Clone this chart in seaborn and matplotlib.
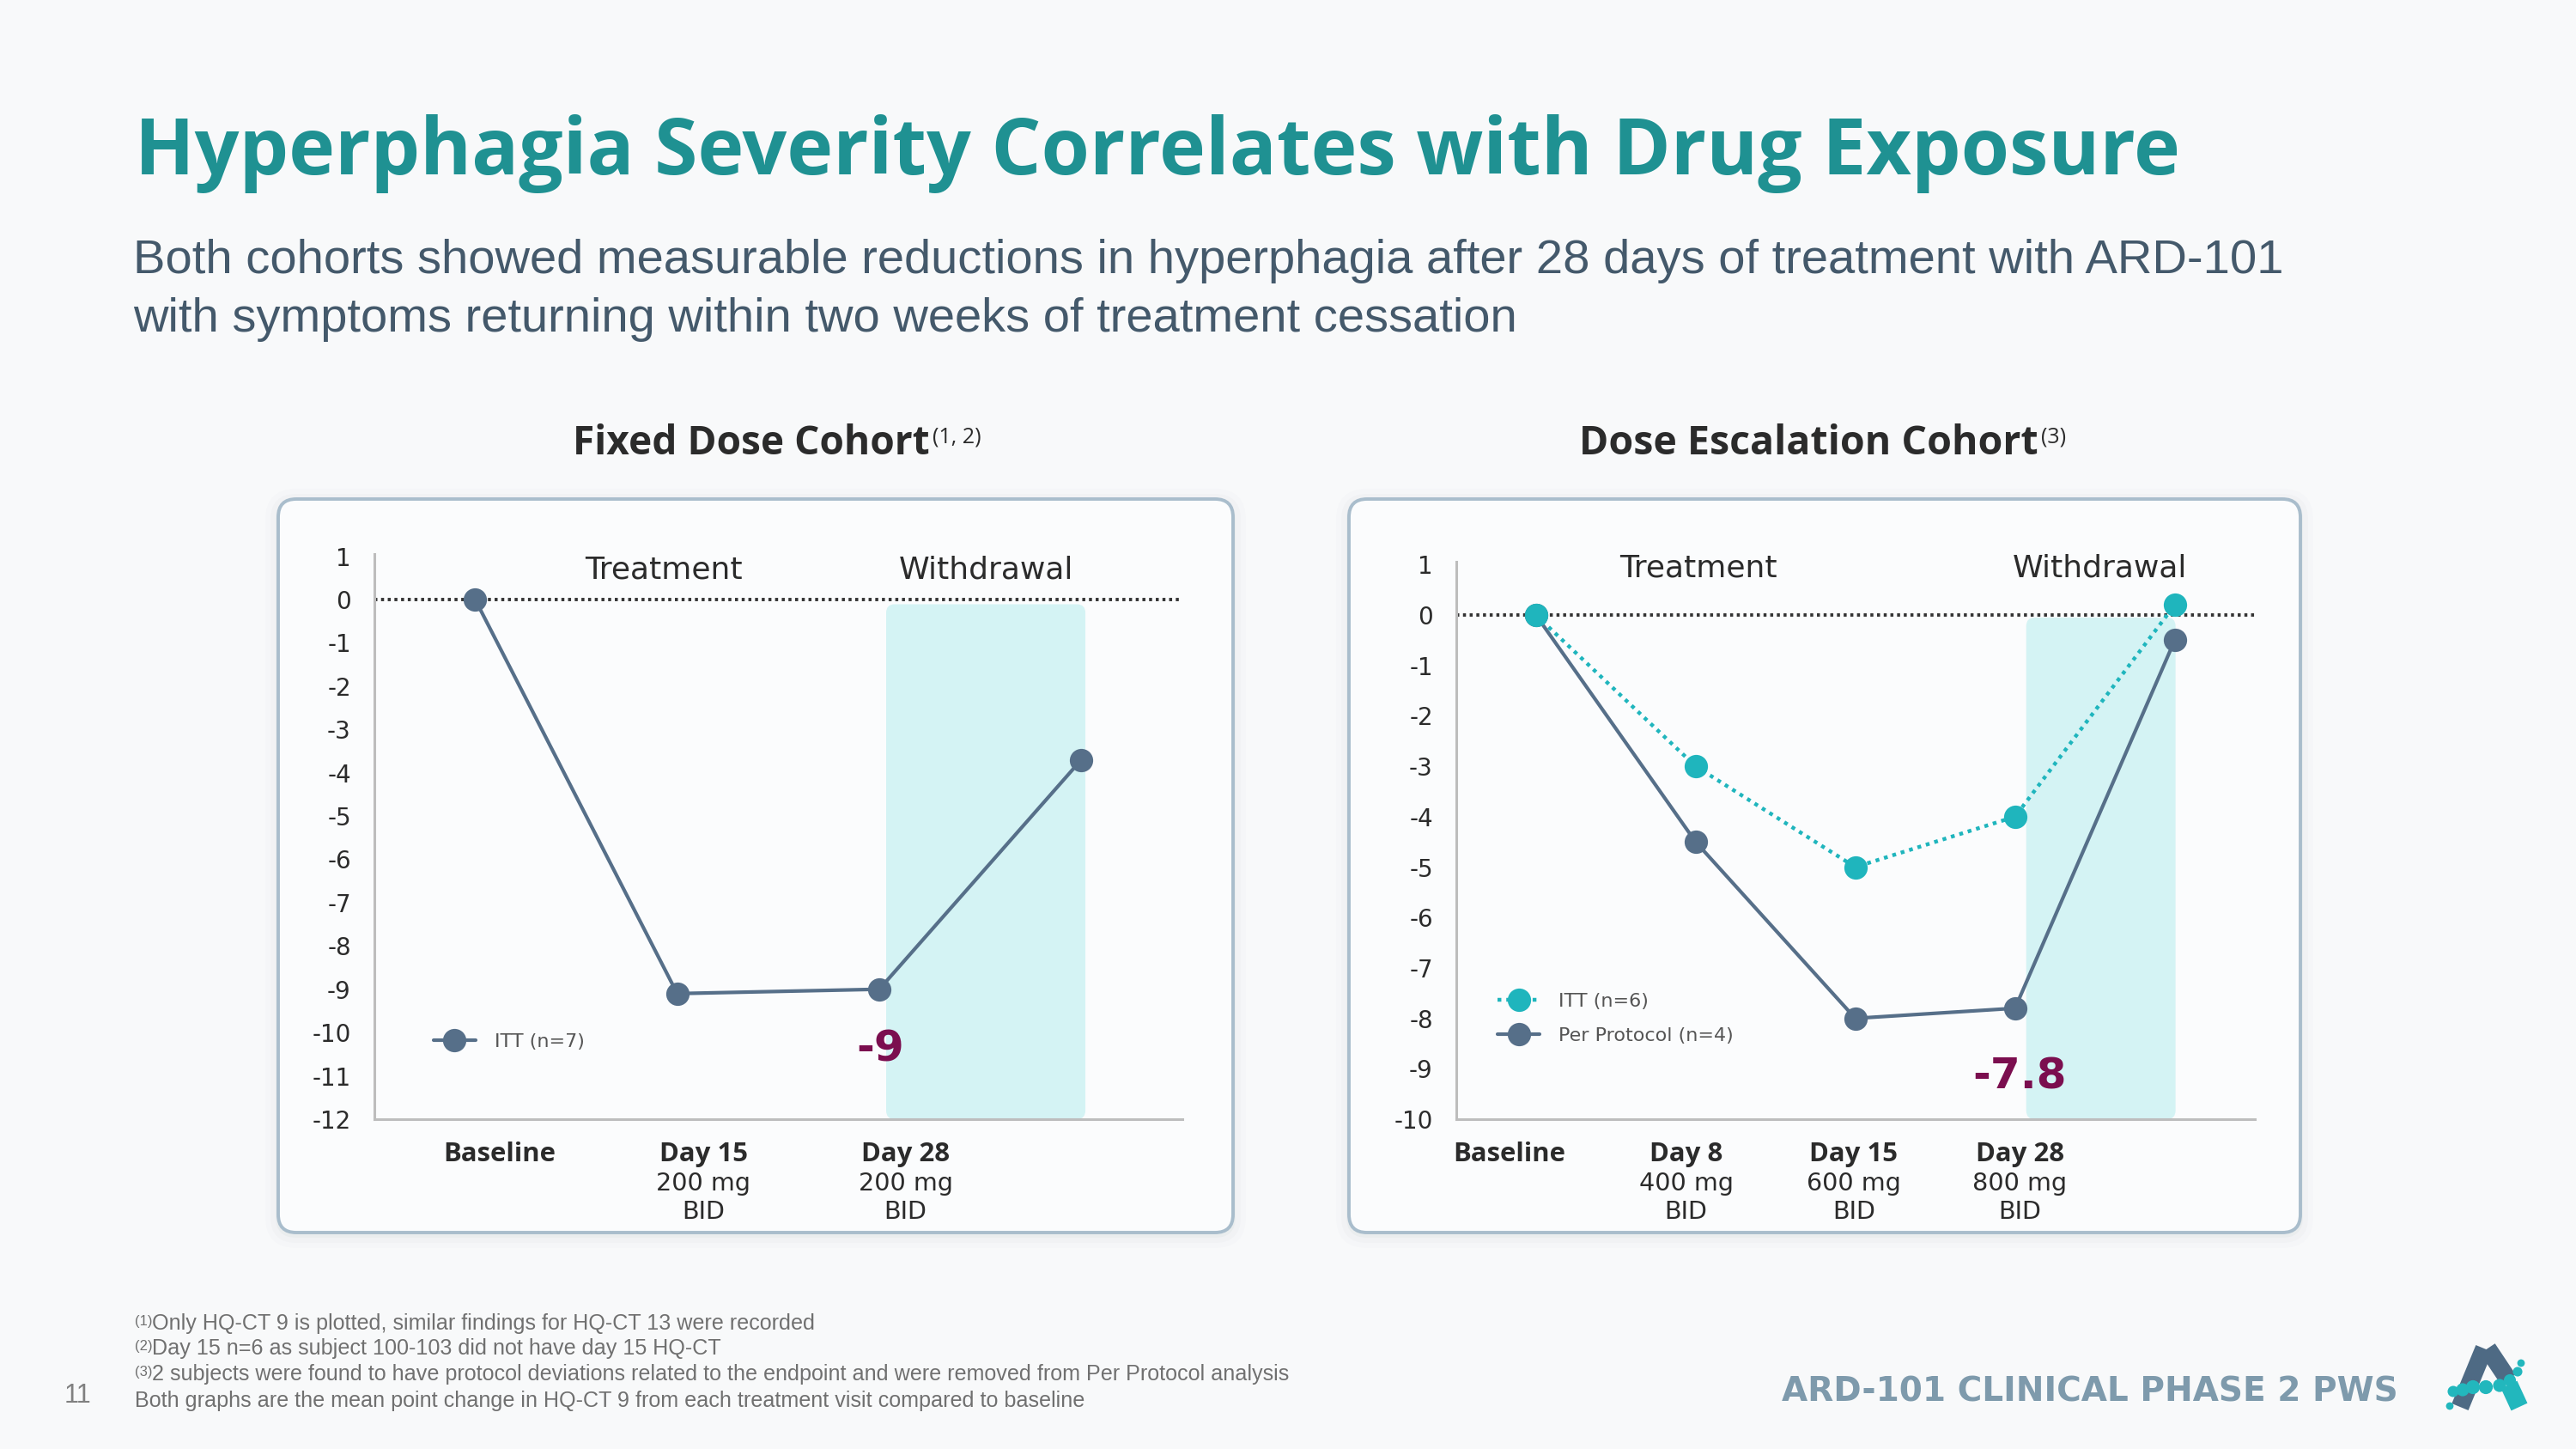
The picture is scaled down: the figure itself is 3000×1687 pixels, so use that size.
import numpy as np
import pandas as pd
import matplotlib
matplotlib.use("Agg")
import matplotlib.pyplot as plt
import matplotlib.transforms as mtransforms
from matplotlib.patches import FancyBboxPatch
import seaborn as sns

# ---------------- data ----------------
fixed_visits = ["Baseline", "Day 15", "Day 28", "Withdrawal"]
fixed_itt = [0.0, -9.1, -9.0, -3.7]
fixed_day_labels = ["Baseline", "Day 15", "Day 28"]
fixed_dose_labels = ["", "200 mg\nBID", "200 mg\nBID"]
fixed_yticks = [1, 0, -1, -2, -3, -4, -5, -6, -7, -8, -9, -10, -11, -12]
fixed_callout = "-9"
fixed_legend = "ITT (n=7)"

esc_visits = ["Baseline", "Day 8", "Day 15", "Day 28", "Withdrawal"]
esc_itt = [0.0, -3.0, -5.0, -4.0, 0.2]
esc_pp = [0.0, -4.5, -8.0, -7.8, -0.5]
esc_day_labels = ["Baseline", "Day 8", "Day 15", "Day 28"]
esc_dose_labels = ["", "400 mg\nBID", "600 mg\nBID", "800 mg\nBID"]
esc_yticks = [1, 0, -1, -2, -3, -4, -5, -6, -7, -8, -9, -10]
esc_callout = "-7.8"
esc_legend = ["ITT (n=6)", "Per Protocol (n=4)"]

phase_labels = ["Treatment", "Withdrawal"]
title = "Hyperphagia Severity Correlates with Drug Exposure"
subtitle = ["Both cohorts showed measurable reductions in hyperphagia after 28 days of treatment with ARD-101",
            "with symptoms returning within two weeks of treatment cessation"]
cohort_titles = ["Fixed Dose Cohort", "Dose Escalation Cohort"]
cohort_refs = ["(1, 2)", "(3)"]
footnote_refs = ["(1)", "(2)", "(3)", ""]
footnotes = ["Only HQ-CT 9 is plotted, similar findings for HQ-CT 13 were recorded",
             "Day 15 n=6 as subject 100-103 did not have day 15 HQ-CT",
             "2 subjects were found to have protocol deviations related to the endpoint and were removed from Per Protocol analysis",
             "Both graphs are the mean point change in HQ-CT 9 from each treatment visit compared to baseline"]
footer = "ARD-101 CLINICAL PHASE 2 PWS"
page_no = "11"

# ---------------- style ----------------
BG = "#f8f9fa"
PANEL = "#fbfcfd"
PANEL_EDGE = "#a9bdcc"
SLATE = "#566f89"
TEAL = "#1fb5bd"
SHADE = "#d4f3f4"
MAGENTA = "#7b0e4f"
TITLE_C = "#1f9192"
SUB_C = "#44596b"
FOOT_C = "#7e9aac"
NOTE_C = "#707070"
TXT = "#2b2b2b"

sns.set_theme(style="white")
plt.rcParams["font.family"] = ["DejaVu Sans"]
plt.rcParams["axes.unicode_minus"] = False

W, H, DPI = 3000, 1687, 200
fig = plt.figure(figsize=(W / DPI, H / DPI), dpi=DPI, facecolor=BG)
R = fig.canvas.get_renderer()
ID = mtransforms.IdentityTransform()


def fit(t, target_w):
    w = t.get_window_extent(R).width
    t.set_fontsize(t.get_fontsize() * target_w / w)
    return t


def ftext(x, y, s, target_w=None, **kw):
    t = fig.text(x / W, 1 - y / H, s, **kw)
    if target_w:
        fit(t, target_w)
    return t


def panel(x0, y0, x1, y1):
    for i, a in enumerate([0.030, 0.020, 0.012]):
        pad = 3 + 6 * i
        sh = FancyBboxPatch((x0 - pad, H - y1 - pad - 3), x1 - x0 + 2 * pad, y1 - y0 + 2 * pad,
                            boxstyle=f"round,pad=0,rounding_size={21 + pad}", transform=ID,
                            fc="#30465a", ec="none", alpha=a, zorder=-3)
        fig.add_artist(sh)
    box = FancyBboxPatch((x0, H - y1), x1 - x0, y1 - y0, boxstyle="round,pad=0,rounding_size=21",
                         transform=ID, fc=PANEL, ec=PANEL_EDGE, lw=1.4, zorder=-2)
    fig.add_artist(box)


# ---------------- header ----------------
ftext(157, 203, title, target_w=2382, fontsize=30, fontweight="bold", color=TITLE_C,
      family=["Open Sans", "DejaVu Sans"], va="baseline", ha="left")
s1 = ftext(155, 318, subtitle[0], target_w=2508, fontsize=18, color=SUB_C,
           family=["Liberation Sans", "DejaVu Sans"], va="baseline", ha="left")
ftext(155, 386, subtitle[1], fontsize=s1.get_fontsize(), color=SUB_C,
      family=["Liberation Sans", "DejaVu Sans"], va="baseline", ha="left")

# cohort titles
ct_x = [667, 1839]
ct_w = [415, 533]
for i in range(2):
    t = ftext(ct_x[i], 529, cohort_titles[i], target_w=ct_w[i], fontsize=14, fontweight="bold",
              color=TXT, family=["Open Sans", "DejaVu Sans"], va="baseline", ha="left")
    x_end = t.get_window_extent(R).x1
    ftext(x_end + 3, 515, cohort_refs[i], fontsize=9, color=TXT,
          family=["Open Sans", "DejaVu Sans"], va="baseline", ha="left")

# ---------------- panels ----------------
panel(324, 581, 1436, 1435)
panel(1571, 581, 2679, 1435)


def setup_axes(rect_px, nx, yticks, ytop):
    x0, y_top, x1, y_bot = rect_px
    ax = fig.add_axes([x0 / W, 1 - y_bot / H, (x1 - x0) / W, (y_bot - y_top) / H])
    ax.set_facecolor("none")
    ax.set_xlim(-0.5, nx - 0.5)
    ax.set_ylim(min(yticks), ytop)
    ax.set_yticks(yticks)
    ax.set_yticklabels([str(v) for v in yticks])
    ax.set_xticks([])
    ax.set_xlabel("")
    ax.set_ylabel("")
    ax.tick_params(axis="y", length=0, pad=9.7, labelsize=10, labelcolor=TXT)
    for sp in ["top", "right"]:
        ax.spines[sp].set_visible(False)
    for sp in ["left", "bottom"]:
        ax.spines[sp].set_color("#bdbdbd")
        ax.spines[sp].set_linewidth(1.1)
    ax.axhline(0, color="#333333", lw=1.4, ls=(0, (0.9, 1.1)), zorder=2)
    return ax


def shade(ax, xa, xb, ytop, px_per_x, px_per_y):
    r = 10 / px_per_x
    aspect = px_per_x / px_per_y
    ymin = ax.get_ylim()[0]
    p = FancyBboxPatch((xa, ymin), xb - xa, ytop - ymin, boxstyle=f"round,pad=0,rounding_size={r}",
                       mutation_aspect=aspect, transform=ax.transData, fc=SHADE, ec="none", zorder=1)
    ax.add_patch(p)


def xlabels(ax, xpos, days, doses):
    tr = mtransforms.blended_transform_factory(ax.transData, fig.transFigure)
    for x, d, dose in zip(xpos, days, doses):
        ax.text(x, 1 - 1352 / H, d, transform=tr, ha="center", va="baseline", fontweight="bold",
                family=["Open Sans", "DejaVu Sans"], fontsize=11.2, color=TXT, clip_on=False)
        if dose:
            for k, line in enumerate(dose.split("\n")):
                ax.text(x, 1 - [1386, 1419][k] / H, line, transform=tr, ha="center", va="baseline",
                        fontsize=10.3, color=TXT, clip_on=False)


# ----- left chart: fixed dose -----
axL = setup_axes((435.7, 645, 1377, 1303), len(fixed_visits), fixed_yticks, 1.05)
shade(axL, 2.034, 3.02, -0.11, 235.7, 50.4)
dfL = pd.DataFrame({"pos": np.arange(len(fixed_visits)), "change": fixed_itt})
sns.lineplot(data=dfL, x="pos", y="change", ax=axL, color=SLATE, lw=1.5, marker="o",
             markersize=9.8, markeredgewidth=0, label=fixed_legend, zorder=4)
axL.set_xlabel(""); axL.set_ylabel(""); axL.set_xticks([])
axL.text(0.935, 0.476, phase_labels[0], ha="center", va="baseline", fontsize=13, color=TXT)
axL.text(2.53, 0.476, phase_labels[1], ha="center", va="baseline", fontsize=13, color=TXT)
axL.text(2.005, -10.67, fixed_callout, ha="center", va="baseline", fontsize=18,
         fontweight="bold", color=MAGENTA, zorder=5)
xlabels(axL, [0.12, 1.13, 2.13], fixed_day_labels, fixed_dose_labels)
legL = axL.legend(loc="center left", bbox_to_anchor=(-0.206, -10.22), bbox_transform=axL.transData,
                  frameon=False, fontsize=8, handlelength=2.2, handletextpad=1.0, borderpad=0,
                  borderaxespad=0)
for t in legL.get_texts():
    t.set_color("#555555")

# ----- right chart: dose escalation -----
axR = setup_axes((1695.7, 653.8, 2625.7, 1303), len(esc_visits), esc_yticks, 1.06)
shade(axR, 3.07, 4.005, -0.05, 186.1, 58.7)
dfR = pd.DataFrame({"pos": np.arange(len(esc_visits)), "itt": esc_itt, "pp": esc_pp})
sns.lineplot(data=dfR, x="pos", y="pp", ax=axR, color=SLATE, lw=1.5, marker="o",
             markersize=9.8, markeredgewidth=0, label=esc_legend[1], zorder=4)
sns.lineplot(data=dfR, x="pos", y="itt", ax=axR, color=TEAL, lw=1.6, ls=(0, (1, 1.3)), marker="o",
             markersize=9.8, markeredgewidth=0, label=esc_legend[0], zorder=5)
axR.set_xlabel(""); axR.set_ylabel(""); axR.set_xticks([])
axR.text(1.017, 0.75, phase_labels[0], ha="center", va="baseline", fontsize=13, color=TXT)
axR.text(3.53, 0.75, phase_labels[1], ha="center", va="baseline", fontsize=13, color=TXT)
axR.text(3.03, -9.40, esc_callout, ha="center", va="baseline", fontsize=18,
         fontweight="bold", color=MAGENTA, zorder=5)
xlabels(axR, [-0.165, 0.94, 1.99, 3.03], esc_day_labels, esc_dose_labels)
h, l = axR.get_legend_handles_labels()
order = [l.index(esc_legend[0]), l.index(esc_legend[1])]
legR = axR.legend([h[i] for i in order], [l[i] for i in order], loc="center left",
                  bbox_to_anchor=(-0.24, -8.01), bbox_transform=axR.transData, frameon=False,
                  fontsize=8, handlelength=2.2, handletextpad=1.0, borderpad=0, borderaxespad=0,
                  labelspacing=0.9)
for t in legR.get_texts():
    t.set_color("#555555")

# ---------------- footnotes ----------------
fn_base = [1548, 1577, 1607, 1638]
fsz = None
for i in range(4):
    if footnote_refs[i]:
        ftext(157, fn_base[i] - 5, footnote_refs[i], fontsize=6, color=NOTE_C,
              family=["Liberation Sans", "DejaVu Sans"], va="baseline", ha="left")
        xs = 177
    else:
        xs = 157
    t = ftext(xs, fn_base[i], footnotes[i], fontsize=11, color=NOTE_C,
              family=["Liberation Sans", "DejaVu Sans"], va="baseline", ha="left")
    if i == 2:
        fit(t, 1322)
        fsz = t.get_fontsize()
for t in fig.texts:
    if t.get_text() in footnotes:
        t.set_fontsize(fsz)

ftext(75, 1633, page_no, fontsize=11, color="#808080",
      family=["Liberation Sans", "DejaVu Sans"], va="baseline", ha="left")
ftext(2075, 1632, footer, target_w=719, fontsize=12, fontweight="bold", color=FOOT_C,
      family=["DejaVu Sans"], va="baseline", ha="left")

# ---------------- logo ----------------
axLogo = fig.add_axes([2840 / W, 1 - 1650 / H, 110 / W, 90 / H])
axLogo.set_xlim(2840, 2950)
axLogo.set_ylim(1650, 1560)
axLogo.axis("off")
axLogo.plot([2865, 2893], [1638, 1570], color="#4e6a84", lw=7.5, solid_capstyle="butt")
axLogo.plot([2897, 2921], [1570, 1606], color="#4e6a84", lw=7.5, solid_capstyle="butt")
axLogo.plot([2922, 2934], [1612, 1638], color="#22b7bd", lw=7.5, solid_capstyle="butt")
dots_x = [2853, 2857, 2868, 2880, 2895, 2911, 2923, 2932, 2936]
dots_y = [1637, 1620, 1618, 1615, 1615, 1613, 1607, 1597, 1587]
dots_s = [10, 22, 30, 34, 34, 30, 26, 16, 10]
axLogo.scatter(dots_x, dots_y, s=dots_s, color="#22b7bd", zorder=5, linewidths=0)

fig.savefig("out.png", dpi=DPI, facecolor=BG)
